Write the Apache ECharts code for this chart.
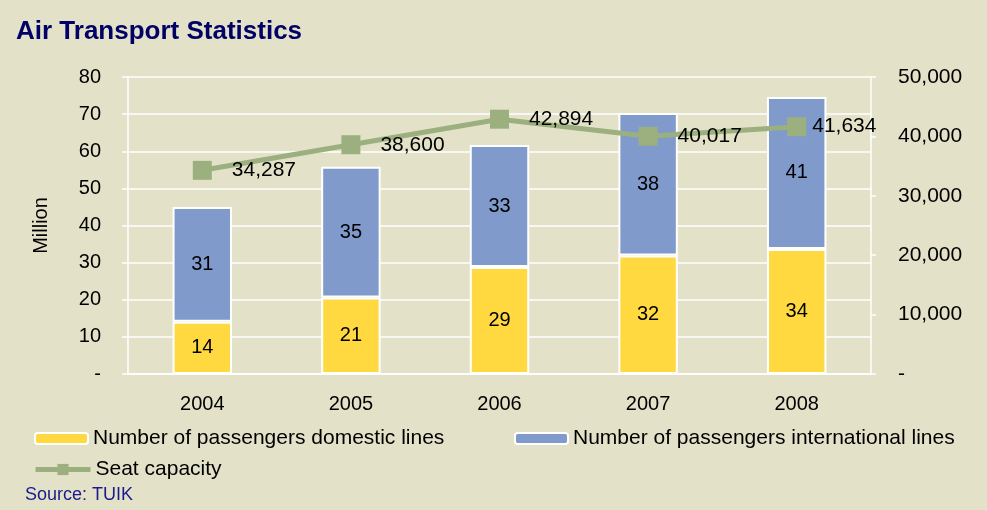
<!DOCTYPE html>
<html><head><meta charset="utf-8">
<script src="https://cdn.jsdelivr.net/npm/echarts@6/dist/echarts.min.js"></script>
<style>html,body{margin:0;padding:0;background:#E3E2C9;}#c{width:987px;height:510px;}</style>
</head><body><div id="c"></div>
<script>
const years = ['2004','2005','2006','2007','2008'];
const domestic = [14.1, 20.6, 28.8, 31.9, 33.7];
const international = [30.9, 35.2, 32.9, 38.4, 40.9];
const seatCapacity = [34287, 38600, 42894, 40017, 41634];
const leftTicks = [0, 80, 10];
const rightTicks = [0, 50000, 10000];

const FONT = '"Liberation Sans", Arial, sans-serif';
const chart = echarts.init(document.getElementById('c'));
const fmt = v => v === 0 ? '-' : v.toLocaleString('en-US');
const lgText = {fontSize: 21, color: '#000', fontFamily: FONT};
const seatData = seatCapacity.map((v, i) => i === seatCapacity.length - 1
  ? {value: v, label: {distance: 6}} : v);
chart.setOption({
  backgroundColor: '#E3E2C9',
  textStyle: {fontFamily: FONT},
  animation: false,
  title: [{text: 'Air Transport Statistics', left: 11, top: 14,
    textStyle: {fontFamily: FONT, fontSize: 26, fontWeight: 'bold', color: '#000066'}},
    {text: 'Source: TUIK', left: 25, top: 486, padding: 0,
    textStyle: {fontFamily: FONT, fontSize: 18, fontWeight: 'normal', color: '#1a1a8c'}}],
  grid: {left: 128, right: 116, top: 77, bottom: 136},
  legend: [
    {data: ['Number of passengers domestic lines'], left: 34, top: 428, padding: 0, itemWidth: 53, itemHeight: 11,
     textStyle: lgText},
    {data: ['Number of passengers international lines'], left: 514, top: 428, padding: 0, itemWidth: 53, itemHeight: 11,
     textStyle: lgText},
    {data: ['Seat capacity'], left: 33, top: 459, padding: 0, itemWidth: 55, itemHeight: 14,
     lineStyle: {width: 5}, textStyle: lgText}
  ],
  xAxis: {type: 'category', data: years,
    axisLine: {lineStyle: {color: '#fff', width: 1.5}}, axisTick: {show: false},
    axisLabel: {fontSize: 20, color: '#000', margin: 20, fontFamily: FONT}},
  yAxis: [
    {type: 'value', min: leftTicks[0], max: leftTicks[1], interval: leftTicks[2],
     name: 'Million', nameLocation: 'middle', nameGap: 77, nameRotate: 90,
     nameTextStyle: {fontSize: 20, color: '#000', fontFamily: FONT},
     axisLine: {show: true, lineStyle: {color: '#fff', width: 1.5}},
     axisTick: {show: true, length: 6, lineStyle: {color: '#fff', width: 1.5}},
     splitLine: {lineStyle: {color: '#fff', width: 1.5}},
     axisLabel: {fontSize: 20, color: '#000', margin: 27, fontFamily: FONT, formatter: fmt}},
    {type: 'value', min: rightTicks[0], max: rightTicks[1], interval: rightTicks[2], position: 'right',
     axisLine: {show: true, lineStyle: {color: '#fff', width: 1.5}},
     axisTick: {show: true, length: 5, lineStyle: {color: '#fff', width: 1.5}},
     splitLine: {show: false},
     axisLabel: {fontSize: 21, color: '#000', margin: 27, fontFamily: FONT, formatter: fmt}}
  ],
  series: [
    {name: 'Number of passengers domestic lines', type: 'bar', stack: 'p', data: domestic, barWidth: '40%',
     itemStyle: {color: '#FFD93F', borderColor: '#fff', borderWidth: 2},
     label: {show: true, position: 'inside', fontSize: 20, color: '#000', fontFamily: FONT,
       formatter: p => Math.round(p.value)}},
    {name: 'Number of passengers international lines', type: 'bar', stack: 'p', data: international,
     itemStyle: {color: '#7F9ACB', borderColor: '#fff', borderWidth: 2},
     label: {show: true, position: 'inside', fontSize: 20, color: '#000', fontFamily: FONT,
       formatter: p => Math.round(p.value)}},
    {name: 'Seat capacity', type: 'line', yAxisIndex: 1, data: seatData,
     symbol: 'rect', symbolSize: 19, lineStyle: {color: '#9BB07E', width: 5},
     itemStyle: {color: '#9BB07E'},
     label: {show: true, position: 'right', distance: 20, fontSize: 21, color: '#000', fontFamily: FONT,
       formatter: p => p.value.toLocaleString('en-US')}}
  ]
});
</script></body></html>
